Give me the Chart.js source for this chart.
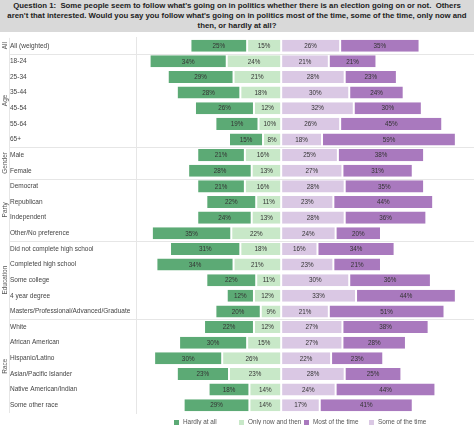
<!DOCTYPE html>
<html>
<head>
<meta charset="utf-8">
<script src="https://cdn.jsdelivr.net/npm/chart.js@4.4.1/dist/chart.umd.min.js"></script>
<style>
  body { margin: 0; background: #fff; font-family: "Liberation Sans", Arial, sans-serif; }
  #title { height: 32px; background: #d9d9d9; color: #222; font-weight: bold; font-size: 7.8px; line-height: 10px; text-align: center; padding: 1px 0 0 0; box-sizing: border-box; white-space: nowrap; overflow: hidden; }
  #wrap { position: relative; width: 474px; height: 387px; }
  #legend { position: relative; height: 6px; font-size: 6.4px; color: #555; }
  #legend span { position: absolute; top: -1px; white-space: nowrap; }
  #legend i { display: inline-block; width: 5px; height: 5px; margin-right: 4px; vertical-align: -0.5px; }
</style>
</head>
<body>
<div id="title">Question 1:&nbsp; Some people seem to follow what's going on in politics whether there is an election going on or not.&nbsp; Others<br>aren't that interested. Would you say you follow what's going on in politics most of the time, some of the time, only now and<br>then, or hardly at all?</div>
<div id="wrap"><canvas id="myChart"></canvas></div>
<div id="legend"></div>
<script>
(function () {
'use strict';

var categories = ['All (weighted)', '18-24', '25-34', '35-44', '45-54', '55-64', '65+',
  'Male', 'Female', 'Democrat', 'Republican', 'Independent', 'Other/No preference',
  'Did not complete high school', 'Completed high school', 'Some college', '4 year degree',
  'Masters/Professional/Advanced/Graduate', 'White', 'African American', 'Hispanic/Latino',
  'Asian/Pacific Islander', 'Native American/Indian', 'Some other race'];

var hardly   = [25, 34, 29, 28, 26, 19, 15, 21, 28, 21, 22, 24, 35, 31, 34, 22, 12, 20, 22, 30, 30, 23, 18, 29];
var nowThen  = [15, 24, 21, 18, 12, 10,  8, 16, 13, 16, 11, 13, 22, 18, 21, 11, 12,  9, 12, 15, 26, 23, 14, 14];
var someTime = [26, 21, 28, 30, 32, 26, 18, 25, 27, 28, 23, 28, 24, 16, 23, 30, 33, 21, 27, 27, 22, 28, 24, 17];
var mostTime = [35, 21, 23, 24, 30, 45, 59, 38, 31, 35, 44, 36, 20, 34, 21, 36, 44, 51, 38, 28, 23, 25, 44, 41];

// group name, first row, last row
var groupNames = ['All', 'Age', 'Gender', 'Party', 'Education', 'Race'];
var groupFirst = [0, 1, 7, 9, 13, 18];
var groupLast  = [0, 6, 8, 12, 17, 23];

var cHardly = 'rgb(92,170,117)';
var cNow = 'rgb(200,232,200)';
var cSome = 'rgb(218,200,228)';
var cMost = 'rgb(169,121,190)';

function neg(arr) { return arr.map(function (v) { return -v; }); }

// value labels in the middle of each segment
var valueLabels = {
  id: 'valueLabels',
  afterDatasetsDraw: function (chart) {
    var ctx = chart.ctx;
    ctx.save();
    ctx.font = '6.3px "Liberation Sans", Arial, sans-serif';
    ctx.fillStyle = '#333';
    ctx.textAlign = 'center';
    ctx.textBaseline = 'middle';
    chart.data.datasets.forEach(function (ds, i) {
      var meta = chart.getDatasetMeta(i);
      meta.data.forEach(function (bar, j) {
        ctx.fillText(Math.abs(ds.data[j]) + '%', (bar.x + bar.base) / 2, bar.y + 0.5);
      });
    });
    ctx.restore();
  }
};

// group separators and rotated group names
var groupLabels = {
  id: 'groupLabels',
  beforeDatasetsDraw: function (chart) {
    var ctx = chart.ctx;
    var y = chart.scales.y;
    var area = chart.chartArea;
    ctx.save();
    ctx.strokeStyle = '#e6e6e6';
    ctx.lineWidth = 1;
    ctx.beginPath();
    ctx.moveTo(9.5, area.top);
    ctx.lineTo(9.5, area.bottom);
    for (var g = 1; g < groupFirst.length; g++) {
      var yy = Math.round((y.getPixelForValue(groupFirst[g]) + y.getPixelForValue(groupFirst[g] - 1)) / 2) + 0.5;
      ctx.moveTo(9.5, yy);
      ctx.lineTo(chart.width, yy);
    }
    ctx.stroke();
    ctx.font = '6.5px "Liberation Sans", Arial, sans-serif';
    ctx.fillStyle = '#555';
    ctx.textAlign = 'center';
    ctx.textBaseline = 'middle';
    for (var k = 0; k < groupNames.length; k++) {
      var cy = (y.getPixelForValue(groupFirst[k]) + y.getPixelForValue(groupLast[k])) / 2;
      ctx.save();
      ctx.translate(5, cy);
      ctx.rotate(-Math.PI / 2);
      ctx.fillText(groupNames[k], 0, 0);
      ctx.restore();
    }
    ctx.restore();
  }
};

var ctx = document.getElementById('myChart').getContext('2d');
var chart = new Chart(ctx, {
  type: 'bar',
  data: {
    labels: categories,
    datasets: [
      { label: 'Only now and then', data: neg(nowThen), backgroundColor: cNow },
      { label: 'Hardly at all', data: neg(hardly), backgroundColor: cHardly },
      { label: 'Some of the time', data: someTime, backgroundColor: cSome },
      { label: 'Most of the time', data: mostTime, backgroundColor: cMost }
    ]
  },
  options: {
    indexAxis: 'y',
    responsive: true,
    maintainAspectRatio: false,
    animation: false,
    datasets: {
      bar: {
        categoryPercentage: 1,
        barPercentage: 0.77,
        borderColor: '#fff',
        borderWidth: { left: 1, right: 1 },
        borderSkipped: false
      }
    },
    layout: { padding: { left: 10, right: 0, top: 5, bottom: 6 } },
    scales: {
      x: {
        stacked: true,
        min: -64,
        max: 85,
        display: false
      },
      y: {
        stacked: true,
        afterFit: function (axis) { axis.width = 126; },
        grid: { display: false },
        border: { display: true, color: '#e6e6e6' },
        ticks: {
          crossAlign: 'far',
          padding: 2,
          color: '#444',
          font: { family: '"Liberation Sans", Arial, sans-serif', size: 6.5 }
        }
      }
    },
    plugins: {
      legend: { display: false },
      tooltip: { enabled: false }
    }
  },
  plugins: [groupLabels, valueLabels]
});

// legend in the order of the original
var legendItems = [['Hardly at all', cHardly], ['Only now and then', cNow], ['Most of the time', cMost], ['Some of the time', cSome]];
var legend = document.getElementById('legend');
legendItems.forEach(function (it, i) {
  var s = document.createElement('span');
  s.style.left = (174 + i * 65) + 'px';
  s.innerHTML = '<i style="background:' + it[1] + '"></i>' + it[0];
  legend.appendChild(s);
});

})();
</script>
</body>
</html>
